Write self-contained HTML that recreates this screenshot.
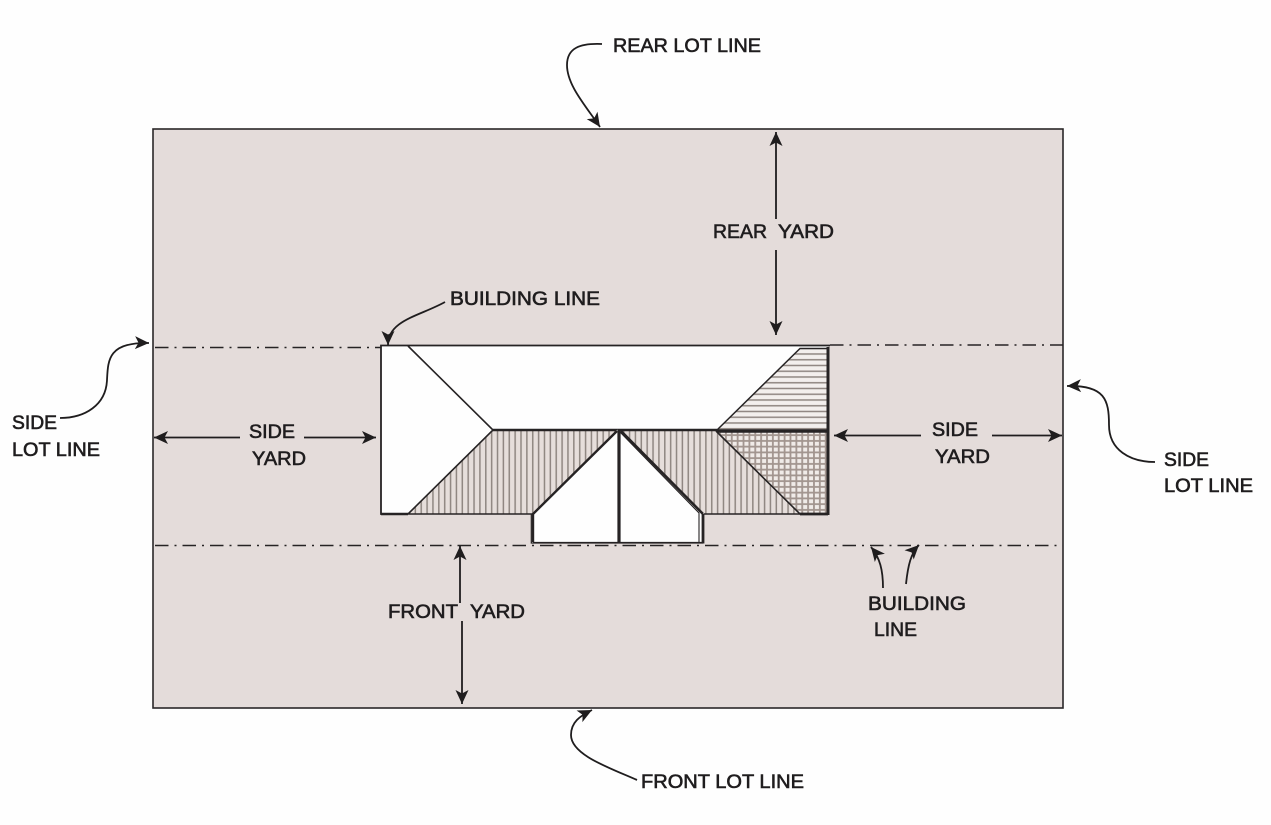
<!DOCTYPE html>
<html><head><meta charset="utf-8"><style>
html,body{margin:0;padding:0;background:#fefefe}
svg{display:block}
text{font-family:"Liberation Sans",sans-serif;font-size:19px;fill:#1f1d1e;stroke:#1f1d1e;stroke-width:.6px}
</style></head><body>
<svg width="1271" height="825" viewBox="0 0 1271 825" xmlns="http://www.w3.org/2000/svg">
<defs>
<marker id="a" markerUnits="userSpaceOnUse" markerWidth="16" markerHeight="16" viewBox="0 0 16 16" refX="15" refY="8" orient="auto"><path d="M15,8 L1,1.500 L4.500,8 L1,14.500 Z" fill="#1f1d1e"/></marker>
<pattern id="v" patternUnits="userSpaceOnUse" width="5.87" height="10" x="1.7"><rect width="5.87" height="10" fill="#e6dedb"/><rect x="2" width="1.5" height="10" fill="#8f8681"/></pattern>
<pattern id="v2" patternUnits="userSpaceOnUse" width="5.87" height="10" x="4.6"><rect width="5.87" height="10" fill="#e6dedb"/><rect x="2" width="1.5" height="10" fill="#8f8681"/></pattern>
<pattern id="h" patternUnits="userSpaceOnUse" width="10" height="5.75" y="0.500"><rect width="10" height="5.75" fill="#f3efed"/><rect y="2" width="10" height="1.5" fill="#8f8681"/></pattern>
<pattern id="c" patternUnits="userSpaceOnUse" width="5.87" height="5.75" x="1" y="1"><rect width="5.87" height="5.75" fill="#f0ebe8"/><rect x="2" width="1.8" height="5.75" fill="#a2958f"/><rect y="2" width="5.87" height="1.8" fill="#a2958f"/></pattern>
</defs>
<rect x="153" y="129" width="910" height="579" fill="#e4dcda" stroke="#2a2728" stroke-width="1.6"/>
<!-- building -->
<rect x="381" y="346" width="447" height="168" fill="#fefefe"/>
<polygon points="800,348 828,348 828,430 717,430" fill="url(#h)"/>
<polygon points="493,430 618,430 532,514 408,514" fill="url(#v)"/>
<polygon points="620,430 717,430 800,514 704,514" fill="url(#v2)"/>
<polygon points="717,431 828,431 828,514 800,514" fill="url(#c)"/>
<g fill="none" stroke="#262324">
<path d="M830,345.500 H381 V514 H408" stroke-width="1.8"/>
<path d="M381,514 H408" stroke-width="2.6"/>
<path d="M408,346 L493,430 L408,514 H532" stroke-width="1.6"/>
<path d="M493,430 H717" stroke-width="2.6"/>
<path d="M717,431 H828" stroke-width="3.6"/>
<path d="M717,430 L800,348.500 H828" stroke-width="1.5"/>
<path d="M716,431 L800,514 H828" stroke-width="1.6"/>
<path d="M704,514 H800" stroke-width="1.6"/>
<path d="M800,514 H828" stroke-width="2.8"/>
<path d="M828,347 V515" stroke-width="3"/>
</g>
<!-- gable -->
<polygon points="618,429 532,514 532,543 704,543 704,514" fill="#fefefe"/>
<g fill="none" stroke="#262324">
<path d="M617,431 L533,514 V542" stroke-width="2.4"/>
<path d="M531.300,514 V543 H703" stroke-width="1.2"/>
<path d="M533,542.700 H703" stroke-width="1.7"/>
<path d="M619,431 L699,513 V542" stroke-width="1.1"/>
<path d="M621,431 L703,514" stroke-width="2.6"/>
<path d="M703,514 V543.500" stroke-width="2.8"/>
<path d="M619,429 V543" stroke-width="3.2"/>
</g>
<!-- dash-dot lines -->
<g fill="none" stroke="#262324" stroke-width="1.6" stroke-dasharray="13.5 6 2 6">
<path d="M155,347.500 H381"/>
<path d="M830,345 H1063"/>
<path d="M155,545.500 H1063"/>
</g>
<!-- arrows -->
<g fill="none" stroke="#1f1d1e" stroke-width="1.8">
<path d="M776,219 V132" marker-end="url(#a)"/>
<path d="M776,250 V335" marker-end="url(#a)"/>
<path d="M240,437.500 H154" marker-end="url(#a)"/>
<path d="M304,437.500 H376" marker-end="url(#a)"/>
<path d="M921,435.500 H834" marker-end="url(#a)"/>
<path d="M992,435.500 H1062" marker-end="url(#a)"/>
<path d="M460,603 V546" marker-end="url(#a)"/>
<path d="M462,621 V704" marker-end="url(#a)"/>
<path d="M602,44 C580,43 567,48 567,65 C567,85 585,105 600,127" marker-end="url(#a)"/>
<path d="M60,418 C85,418 106,405 107,380 C108,360 108,342 149,343" marker-end="url(#a)"/>
<path d="M1155,462 C1130,462 1109,450 1109,425 C1109,400 1105,385 1067,386" marker-end="url(#a)"/>
<path d="M883,588 C883,570 880,558 871,547" marker-end="url(#a)"/>
<path d="M906,584 C908,565 911,553 919,545" marker-end="url(#a)"/>
<path d="M637,780 C610,768 571,755 571,735 C571,722 580,716 592,710" marker-end="url(#a)"/>
<path d="M445,302 C420,316 388,320 388,345" marker-end="url(#a)"/>
</g>
<!-- labels -->
<g>
<text x="613" y="52" textLength="148" lengthAdjust="spacingAndGlyphs">REAR LOT LINE</text>
<text x="713" y="238" textLength="54" lengthAdjust="spacingAndGlyphs">REAR</text>
<text x="778" y="238" textLength="56" lengthAdjust="spacingAndGlyphs">YARD</text>
<text x="450" y="305" textLength="150" lengthAdjust="spacingAndGlyphs">BUILDING LINE</text>
<text x="249" y="438" textLength="46" lengthAdjust="spacingAndGlyphs">SIDE</text>
<text x="252" y="465" textLength="54" lengthAdjust="spacingAndGlyphs">YARD</text>
<text x="932" y="436" textLength="46" lengthAdjust="spacingAndGlyphs">SIDE</text>
<text x="935" y="463" textLength="55" lengthAdjust="spacingAndGlyphs">YARD</text>
<text x="12" y="429" textLength="45" lengthAdjust="spacingAndGlyphs">SIDE</text>
<text x="12" y="456" textLength="88" lengthAdjust="spacingAndGlyphs">LOT LINE</text>
<text x="1164" y="466" textLength="45" lengthAdjust="spacingAndGlyphs">SIDE</text>
<text x="1164" y="492" textLength="89" lengthAdjust="spacingAndGlyphs">LOT LINE</text>
<text x="388" y="618" textLength="70" lengthAdjust="spacingAndGlyphs">FRONT</text>
<text x="470" y="618" textLength="55" lengthAdjust="spacingAndGlyphs">YARD</text>
<text x="868" y="610" textLength="98" lengthAdjust="spacingAndGlyphs">BUILDING</text>
<text x="874" y="636" textLength="43" lengthAdjust="spacingAndGlyphs">LINE</text>
<text x="641" y="788" textLength="163" lengthAdjust="spacingAndGlyphs">FRONT LOT LINE</text>
</g>
</svg>
</body></html>
